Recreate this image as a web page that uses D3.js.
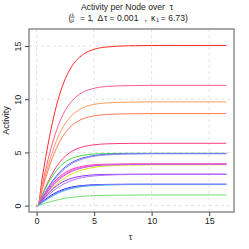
<!DOCTYPE html>
<html lang="en">
<head>
<meta charset="UTF-8">
<title>Activity per Node over tau</title>
<script src="https://d3js.org/d3.v7.min.js"></script>
<style>
  body { margin: 0; background: white; }
  svg { display: block; }
  text { font-family: "Liberation Sans", Arial, sans-serif; fill: #222; }
  .grid line { stroke: #e2e2e2; stroke-dasharray: 3,3; }
  .node-line { fill: none; stroke-width: 1; }
</style>
</head>
<body>
<svg width="249" height="249"></svg>
<script>
// time grid (tau) shared by every node
const tau = [0, 0.1, 0.5, 1, 1.5, 2, 2.5, 3, 4, 5, 6, 8, 10, 16.5];

// activity per node
const n1  = [0, 0, 2.68, 5.78, 8.40, 10.44, 11.93, 12.99, 14.18, 14.69, 14.90, 15.02, 15.05, 15.05];
const n2  = [0, 0, 2.01, 4.34, 6.31, 7.84, 8.96, 9.75, 10.64, 11.03, 11.19, 11.28, 11.30, 11.30];
const n3  = [0, 0, 1.74, 3.74, 5.44, 6.77, 7.73, 8.41, 9.18, 9.52, 9.65, 9.73, 9.75, 9.75];
const n4  = [0, 0, 1.54, 3.32, 4.83, 6.00, 6.86, 7.47, 8.15, 8.44, 8.56, 8.63, 8.65, 8.65];
const n5  = [0, 0, 1.04, 2.25, 3.27, 4.07, 4.65, 5.06, 5.52, 5.72, 5.80, 5.85, 5.86, 5.86];
const n6  = [0, 0, 0.97, 2.08, 2.97, 3.64, 4.10, 4.41, 4.72, 4.85, 4.89, 4.92, 4.92, 4.92];
const n7  = [0, 0, 0.78, 1.69, 2.49, 3.14, 3.65, 4.02, 4.48, 4.71, 4.81, 4.88, 4.90, 4.90];
const n8  = [0, 0, 0.74, 1.61, 2.37, 3.00, 3.51, 3.90, 4.38, 4.64, 4.76, 4.85, 4.87, 4.87];
const n9  = [0, 0, 0.70, 1.51, 2.19, 2.73, 3.12, 3.39, 3.70, 3.84, 3.89, 3.92, 3.93, 3.93];
const n10 = [0, 0, 0.65, 1.40, 2.06, 2.59, 2.98, 3.28, 3.62, 3.78, 3.85, 3.89, 3.90, 3.90];
const n11 = [0, 0, 0.53, 1.17, 1.74, 2.23, 2.63, 2.95, 3.37, 3.60, 3.72, 3.81, 3.83, 3.84];
const n12 = [0, 0, 0.62, 1.34, 1.97, 2.49, 2.89, 3.19, 3.55, 3.73, 3.81, 3.86, 3.88, 3.88];
const n13 = [0, 0, 0.53, 1.14, 1.65, 2.05, 2.35, 2.55, 2.79, 2.89, 2.93, 2.95, 2.96, 2.96];
const n14 = [0, 0, 0.44, 0.97, 1.42, 1.81, 2.11, 2.34, 2.64, 2.79, 2.86, 2.92, 2.93, 2.93];
const n15 = [0, 0, 0.36, 0.77, 1.12, 1.39, 1.59, 1.73, 1.89, 1.96, 1.99, 2.01, 2.01, 2.01];
const n16 = [0, 0, 0.30, 0.65, 0.96, 1.22, 1.43, 1.58, 1.78, 1.88, 1.93, 1.97, 1.98, 1.98];
const n17 = [0, 0, 0.32, 0.69, 1.02, 1.28, 1.49, 1.64, 1.83, 1.92, 1.96, 1.99, 2.00, 2.00];
const n18 = [0, 0, 0.14, 0.31, 0.45, 0.58, 0.69, 0.77, 0.88, 0.94, 0.97, 0.99, 1.00, 1.00];

const nodeColors = ["#ff2a2a", "#ff5a96", "#ff9a5a", "#ff7a5a", "#ff3a78", "#40dc40",
                    "#5a5aff", "#8a8aff", "#ff30d0", "#ff70a8", "#e6e600", "#c050ff",
                    "#9030ff", "#b070ff", "#2020ff", "#40e0e0", "#8080ff", "#70e070"];

const xTicks = [0, 5, 10, 15];
const yTicks = [0, 5, 10, 15];

const nodes = [n1, n2, n3, n4, n5, n6, n7, n8, n9, n10, n11, n12, n13, n14, n15, n16, n17, n18];

const svg = d3.select("svg");
const mLeft = 29, mRight = 234, mTop = 29, mBottom = 212;

const x = d3.scaleLinear().domain([-0.66, 17.16]).range([mLeft, mRight]);
const y = d3.scaleLinear().domain([-0.6, 16.6]).range([mBottom, mTop]);

// dashed grid
const grid = svg.append("g").attr("class", "grid");
grid.selectAll(".gx").data(xTicks).enter().append("line")
    .attr("x1", d => x(d)).attr("x2", d => x(d))
    .attr("y1", mTop).attr("y2", mBottom);
grid.selectAll(".gy").data(yTicks).enter().append("line")
    .attr("y1", d => y(d)).attr("y2", d => y(d))
    .attr("x1", mLeft).attr("x2", mRight);

// node curves
const line = d3.line()
    .x((d, i) => x(tau[i]))
    .y(d => y(d))
    .curve(d3.curveMonotoneX);

svg.selectAll(".node-line").data(nodes).enter()
    .append("path").attr("class", "node-line")
    .attr("stroke", (d, i) => nodeColors[i])
    .attr("d", line);

// frame
svg.append("rect")
    .attr("x", mLeft).attr("y", mTop)
    .attr("width", mRight - mLeft).attr("height", mBottom - mTop)
    .attr("fill", "none").attr("stroke", "#8c8c8c").attr("stroke-width", 1.5);

// axes
const xAxis = d3.axisBottom(x).tickValues(xTicks).tickSize(4).tickPadding(2);
const gx = svg.append("g").attr("transform", `translate(0,${mBottom})`).call(xAxis);
gx.select(".domain").remove();
gx.selectAll("text").attr("font-size", 9).style("fill", "#222");
gx.selectAll("line").attr("stroke", "#444");

const yAxis = d3.axisLeft(y).tickValues(yTicks).tickSize(4);
const gy = svg.append("g").attr("transform", `translate(${mLeft},0)`).call(yAxis);
gy.select(".domain").remove();
gy.selectAll("line").attr("stroke", "#444");
gy.selectAll(".tick text")
    .attr("font-size", 9).style("fill", "#222")
    .attr("text-anchor", "middle")
    .attr("x", 0).attr("y", 0).attr("dy", 0)
    .attr("transform", "translate(-8,0) rotate(-90)");

// axis titles
svg.append("text").attr("x", (mLeft + mRight) / 2 - 1).attr("y", 240)
    .attr("text-anchor", "middle").attr("font-size", 9).text("τ");
svg.append("text")
    .attr("transform", `translate(8.5,${(mTop + mBottom) / 2}) rotate(-90)`)
    .attr("text-anchor", "middle").attr("font-size", 9).text("Activity");

// title
svg.append("text").attr("x", 127).attr("y", 9.5)
    .attr("text-anchor", "middle").attr("font-size", 8.6)
    .style("white-space", "pre").text("Activity per Node over  τ");

// subtitle: (λ/μ = 1 , Δτ = 0.001 , κ1 = 6.73)
const sub = svg.append("g").attr("font-size", 8.6);
const piece = (px, txt) => sub.append("text").attr("x", px).attr("y", 20.5).text(txt);
piece(68.5, "(");
sub.append("text").attr("x", 72.8).attr("y", 16.6).attr("font-size", 5)
    .attr("text-anchor", "middle").text("λ");
sub.append("line").attr("x1", 70.8).attr("x2", 74.8).attr("y1", 17.6).attr("y2", 17.6)
    .attr("stroke", "#222").attr("stroke-width", 0.5);
sub.append("text").attr("x", 72.8).attr("y", 22.3).attr("font-size", 5)
    .attr("text-anchor", "middle").text("μ");
piece(80, "= 1");
piece(91, ",");
piece(97.5, "Δ");
piece(104, "τ");
piece(109.5, "= 0.001");
piece(144.5, ",");
piece(151, "κ");
sub.append("text").attr("x", 156).attr("y", 22.3).attr("font-size", 5.5).text("1");
piece(160.8, "= 6.73)");
</script>
</body>
</html>
